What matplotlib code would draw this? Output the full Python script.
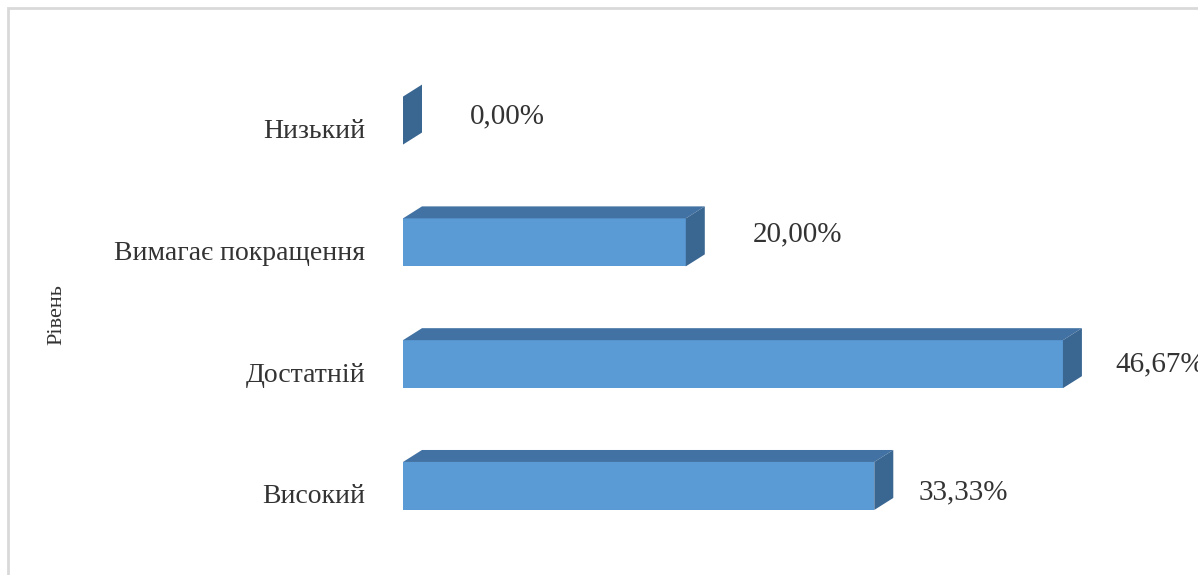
import matplotlib
matplotlib.use("Agg")
import matplotlib.pyplot as plt
from matplotlib.patches import Polygon, Rectangle

categories = ["Високий", "Достатній", "Вимагає покращення", "Низький"]
values = [33.33, 46.67, 20.00, 0.00]
value_labels = ["33,33%", "46,67%", "20,00%", "0,00%"]
axis_title = "Рівень"

# layout (pixels) for data labels relative to bar end and centre
label_dx = [44, 52, 67, 67]
label_dy = [6, 0, -8, -4]

W, H = 1198, 575
fig = plt.figure(figsize=(W / 100, H / 100), dpi=100)
fig.patch.set_facecolor("white")

# outer chart border
fig.add_artist(Rectangle((8 / W, -0.02), 1.1, 1 - 8 / H + 0.02, transform=fig.transFigure,
                         fill=False, edgecolor="#d9d9d9", linewidth=2.0))

ax = fig.add_axes([403 / W, 0, (W - 403) / W, 1])
ax.set_xlim(0, (W - 403) / 14.14)
ax.set_ylim(-0.731, 3.99)
ax.axis("off")

front = "#5b9bd5"
top = "#4272a3"
side = "#3a6692"
bh = 0.394
ypos = list(range(len(categories)))
ax.barh(ypos, values, height=bh, color=front, edgecolor="none", zorder=2)

fig.canvas.draw()
td = ax.transData
inv = td.inverted()
dx, dy = 19, 12
ser = ["Liberation Serif", "DejaVu Serif"]
for y, v, lab, ldx, ldy, cat in zip(ypos, values, value_labels, label_dx, label_dy, categories):
    (x0, yb) = td.transform((0, y - bh / 2))
    (x1, yt) = td.transform((v, y + bh / 2))
    topf = [(x0, yt), (x1, yt), (x1 + dx, yt + dy), (x0 + dx, yt + dy)]
    sidef = [(x1, yb), (x1 + dx, yb + dy), (x1 + dx, yt + dy), (x1, yt)]
    if v > 0:
        ax.add_patch(Polygon(inv.transform(topf), closed=True, color=top, lw=0, zorder=3))
    ax.add_patch(Polygon(inv.transform(sidef), closed=True, color=side, lw=0, zorder=3))
    # value label
    lx, ly = inv.transform((x1 + ldx, (yb + yt) / 2 - ldy))
    ax.text(lx, ly, lab, ha="left", va="center", fontsize=21, family=ser, color="#333333",
            clip_on=False)
    # category label
    fx = 365 / W
    fy = ((yb + yt) / 2 - 11) / H
    fig.text(fx, fy, cat, ha="right", va="center", fontsize=20, family=ser, color="#333333")

fig.text(57 / W, 1 - 315 / H, axis_title, rotation=90, ha="center", va="center",
         fontsize=16, family=ser, color="#333333")

fig.savefig("out.png", dpi=100)
